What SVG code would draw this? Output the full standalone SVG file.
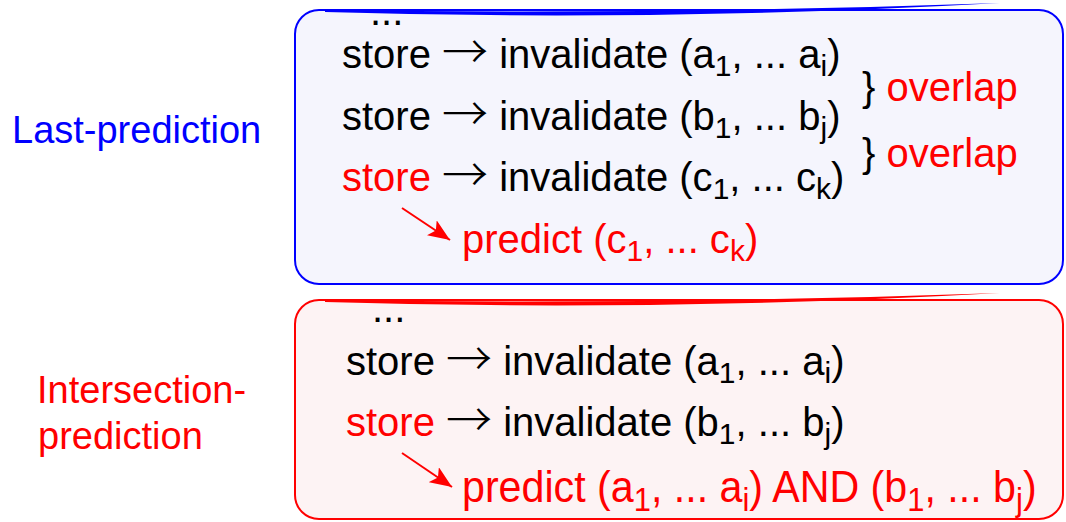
<svg xmlns="http://www.w3.org/2000/svg" width="1066" height="522" viewBox="0 0 1066 522">
<defs>
<style>
.t{font-family:"Liberation Sans",Arial,sans-serif;font-size:40px;fill:#000}
.lbl{font-family:"Liberation Sans",Arial,sans-serif;font-size:38px}
.r{fill:#ff0000}
.b{fill:#0000ff}
.s{font-size:30px}
.ar{font-family:"Noto Sans CJK JP","DejaVu Sans",sans-serif;font-size:46px;font-weight:300;fill:#000}
.conn{stroke:#ff0000;stroke-width:2;fill:none}
</style>
<marker id="ah" markerUnits="userSpaceOnUse" markerWidth="24" markerHeight="18" refX="22" refY="9" orient="auto">
<path d="M0,0 L22,9 L0,18 L5,9 Z" fill="#ff0000"/>
</marker>
</defs>
<rect width="1066" height="522" fill="#ffffff"/>

<g id="last-box">
<rect x="295" y="10" width="768" height="274" rx="24" ry="24" fill="#f5f5fd" stroke="#0000ff" stroke-width="2"/>
<path d="M325 10 Q660 15 1000 3 Q660 22 325 12 Z" fill="#0000ff"/>
<text class="t" x="370" y="25">...</text>
<text class="t" x="342" y="68">store <tspan class="ar">→</tspan> invalidate (a<tspan class="s" dy="8">1</tspan><tspan dy="-8">, ... a</tspan><tspan class="s" dy="8">i</tspan><tspan dy="-8">)</tspan></text>
<text class="t" x="342" y="130">store <tspan class="ar">→</tspan> invalidate (b<tspan class="s" dy="8">1</tspan><tspan dy="-8">, ... b</tspan><tspan class="s" dy="8">j</tspan><tspan dy="-8">)</tspan></text>
<text class="t" x="342" y="191"><tspan class="r">store</tspan> <tspan class="ar">→</tspan> invalidate (c<tspan class="s" dy="8">1</tspan><tspan dy="-8">, ... c</tspan><tspan class="s" dy="8">k</tspan><tspan dy="-8">)</tspan></text>
<text class="t r" x="462" y="253">predict (c<tspan class="s" dy="8">1</tspan><tspan dy="-8">, ... c</tspan><tspan class="s" dy="8">k</tspan><tspan dy="-8">)</tspan></text>
<text class="t" x="862" y="101">} <tspan class="r">overlap</tspan></text>
<text class="t" x="862" y="167">} <tspan class="r">overlap</tspan></text>
</g>

<g id="intersection-box">
<rect x="295" y="300" width="768" height="219" rx="24" ry="24" fill="#fdf3f4" stroke="#ff0000" stroke-width="2"/>
<path d="M325 300 Q660 305 1000 293 Q660 312 325 302 Z" fill="#ff0000"/>
<text class="t" x="372" y="322">...</text>
<text class="t" x="346" y="375">store <tspan class="ar">→</tspan> invalidate (a<tspan class="s" dy="8">1</tspan><tspan dy="-8">, ... a</tspan><tspan class="s" dy="8">i</tspan><tspan dy="-8">)</tspan></text>
<text class="t" x="346" y="436"><tspan class="r">store</tspan> <tspan class="ar">→</tspan> invalidate (b<tspan class="s" dy="8">1</tspan><tspan dy="-8">, ... b</tspan><tspan class="s" dy="8">j</tspan><tspan dy="-8">)</tspan></text>
<text class="t r" transform="translate(462,502) scale(1.03,1.1)" x="0" y="0">predict (a<tspan class="s" dy="8">1</tspan><tspan dy="-8">, ... a</tspan><tspan class="s" dy="8">i</tspan><tspan dy="-8">) AND (b</tspan><tspan class="s" dy="8">1</tspan><tspan dy="-8">, ... b</tspan><tspan class="s" dy="8">j</tspan><tspan dy="-8">)</tspan></text>
</g>

<g id="label-last">
<text class="lbl b" x="12" y="143">Last-prediction</text>
</g>
<g id="label-intersection">
<text class="lbl r" x="37" y="403">Intersection-</text>
<text class="lbl r" x="38" y="449">prediction</text>
</g>

<g id="connectors">
<line class="conn" x1="402" y1="208" x2="450" y2="240" marker-end="url(#ah)"/>
<line class="conn" x1="402" y1="453" x2="452" y2="487" marker-end="url(#ah)"/>
</g>
</svg>
